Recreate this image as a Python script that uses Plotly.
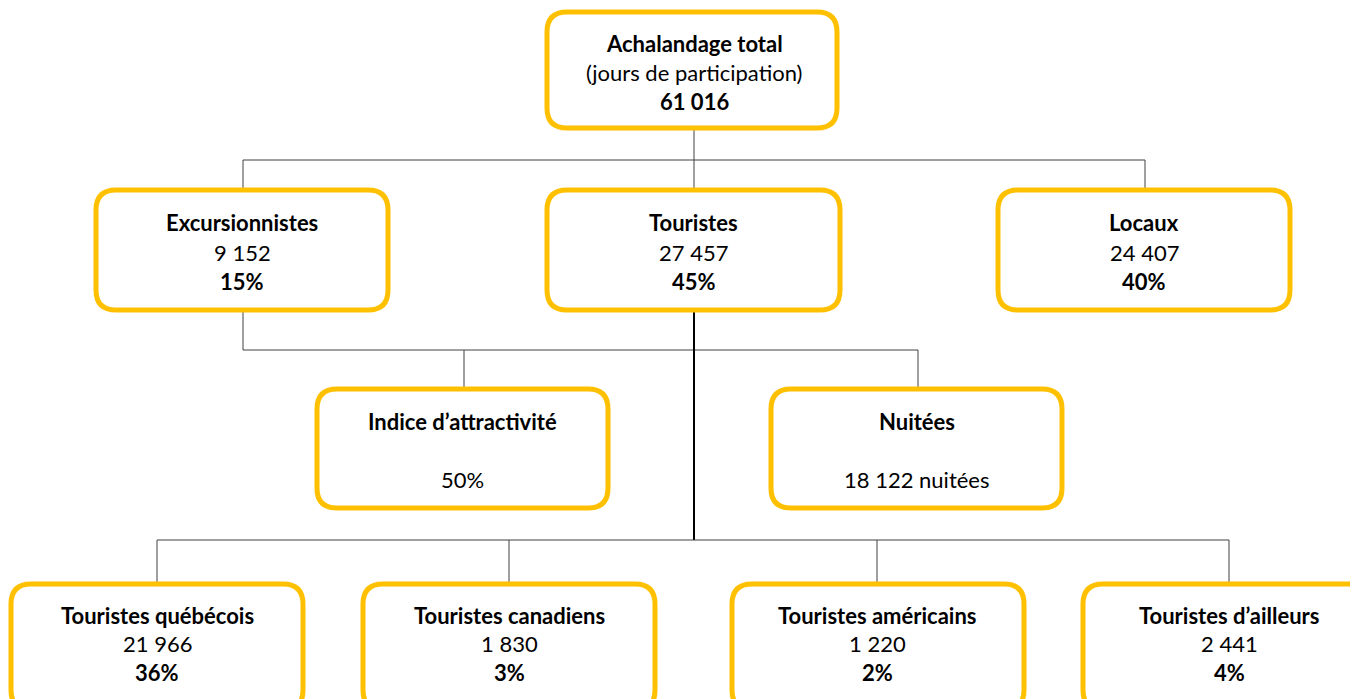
import plotly.graph_objects as go

# ---- data ----
total_label = "Achalandage total"
total_sub = "(jours de participation)"
total_value = "61 016"

level2_names = ["Excursionnistes", "Touristes", "Locaux"]
level2_values = ["9 152", "27 457", "24 407"]
level2_pcts = ["15%", "45%", "40%"]

mid_names = ["Indice d\u2019attractivité", "Nuitées"]
mid_values = ["50%", "18 122 nuitées"]

level3_names = ["Touristes québécois", "Touristes canadiens", "Touristes américains", "Touristes d\u2019ailleurs"]
level3_values = ["21 966", "1 830", "1 220", "2 441"]
level3_pcts = ["36%", "3%", "2%", "4%"]

# ---- layout geometry (pixels) ----
W, H = 1358, 699
OFF = 8  # page body margin
GOLD = "#FFC000"
FONT = "Lato"
FS = 22

fig = go.Figure()
shapes = []
annotations = []

def rbox(x0, y0, x1, y1, r=20):
    p = (f"M {x0+r},{y0} L {x1-r},{y0} Q {x1},{y0} {x1},{y0+r} "
         f"L {x1},{y1-r} Q {x1},{y1} {x1-r},{y1} L {x0+r},{y1} "
         f"Q {x0},{y1} {x0},{y1-r} L {x0},{y0+r} Q {x0},{y0} {x0+r},{y0} Z")
    shapes.append(dict(type="path", path=p, xref="x", yref="y",
                       line=dict(color=GOLD, width=5), fillcolor="white", layer="above"))

def line(x0, y0, x1, y1, color="#404040", width=1):
    shapes.append(dict(type="line", x0=x0, y0=y0, x1=x1, y1=y1, xref="x", yref="y",
                       line=dict(color=color, width=width), layer="below"))

def text(x, y, s, bold=False):
    annotations.append(dict(x=x, y=y, xref="x", yref="y", text=(f"<b>{s}</b>" if bold else s),
                            showarrow=False, font=dict(family=FONT, size=FS, color="black"),
                            xanchor="center", yanchor="middle"))

# connectors
line(694, 128, 694, 160)
line(243, 160, 1145, 160)
for cx in [243, 694, 1145]:
    line(cx, 160, cx, 190)
line(243, 310, 243, 350)
line(243, 350, 918, 350)
line(464, 350, 464, 390)
line(918, 350, 918, 390)
line(694, 310, 694, 540, color="black", width=2)
line(157, 540, 1229, 540)
for cx in [157, 509, 877, 1229]:
    line(cx, 540, cx, 585)

# top box
rbox(547, 12, 837, 128)
text(694, 43, total_label, True)
text(694, 72, total_sub)
text(694, 101, total_value, True)

# level 2
l2_boxes = [(96, 388), (547, 840), (998, 1290)]
for (x0, x1), n, v, p in zip(l2_boxes, level2_names, level2_values, level2_pcts):
    rbox(x0, 190, x1, 310)
    cx = (x0 + x1) / 2
    text(cx, 222, n, True)
    text(cx, 252, v)
    text(cx, 281, p, True)

# middle
mid_boxes = [(317, 608), (771, 1062)]
for (x0, x1), n, v in zip(mid_boxes, mid_names, mid_values):
    rbox(x0, 389, x1, 508)
    cx = (x0 + x1) / 2
    text(cx, 421, n, True)
    text(cx, 479, v)

# level 3
l3_boxes = [(11, 303), (363, 655), (732, 1024), (1083, 1375)]
l3_centers = [157, 509, 877, 1229]
for (x0, x1), cx, n, v, p in zip(l3_boxes, l3_centers, level3_names, level3_values, level3_pcts):
    rbox(x0, 584, x1, 710)
    text(cx, 615, n, True)
    text(cx, 643, v)
    text(cx, 672, p, True)

fig.update_layout(
    width=W - OFF, height=H - OFF, margin=dict(l=0, r=0, t=0, b=0),
    paper_bgcolor="white", plot_bgcolor="white",
    xaxis=dict(range=[OFF, W], visible=False, fixedrange=True),
    yaxis=dict(range=[H, OFF], visible=False, fixedrange=True),
    shapes=shapes, annotations=annotations, showlegend=False,
)
fig.write_html("out.html", config={"displayModeBar": False})
